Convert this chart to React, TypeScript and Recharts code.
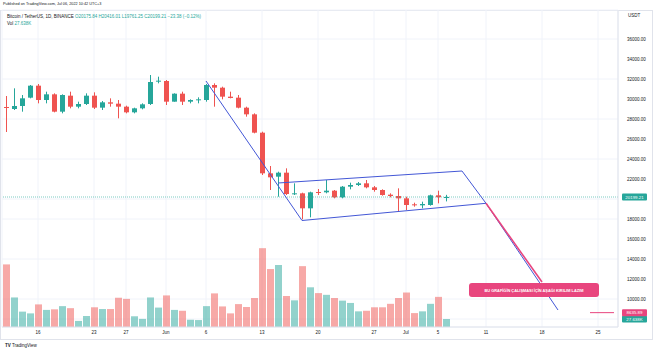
import React from 'react';
import {
  ComposedChart, Bar, Line, XAxis, YAxis, CartesianGrid, Cell, ReferenceLine, ReferenceDot,
} from 'recharts';

// BTC/USDT daily, 12 May 2022 → 6 Jul 2022
const open = [
  29200, 29000, 29300, 30133, 31333, 29900, 30467, 28733, 30333, 29233,
  29500, 30333, 29133, 29667, 29533, 29233, 28667, 29067, 29500, 31733,
  31800, 29733, 30533, 29733, 29900, 29900, 31400, 31133, 30233, 30133,
  29133, 28467, 26633, 22567, 22233, 22633, 20500, 20567, 19067, 20700,
  20667, 20833, 20167, 21233, 21400, 21567, 21167, 20900, 20433, 20300,
  20067, 19467, 19367, 19400, 20367, 20175.84,
];
const high = [
  30300, 31067, 30400, 31400, 31500, 30733, 30567, 30467, 30733, 29733,
  30567, 30667, 29800, 30067, 29900, 29333, 29133, 29567, 32400, 32233,
  31900, 30567, 30733, 29967, 30167, 31500, 31567, 31233, 30733, 30400,
  29233, 28567, 26733, 23300, 22733, 23067, 21567, 20633, 20733, 21000,
  21900, 20900, 21300, 21633, 21700, 21900, 21300, 20967, 20567, 21067,
  20233, 19633, 19733, 20433, 20833, 20416.01,
];
const low = [
  26700, 28900, 28733, 30067, 29567, 29567, 28667, 28567, 29067, 29067,
  29400, 29000, 28900, 29233, 28067, 28567, 28567, 28967, 29400, 31567,
  29400, 29733, 29400, 29567, 29567, 29733, 29233, 29967, 30067, 29067,
  28233, 26567, 22400, 20900, 20233, 20400, 20400, 17967, 18167, 20400,
  20567, 20067, 20067, 20967, 21300, 21067, 20733, 20333, 20167, 18733,
  18900, 19233, 19067, 19333, 19567, 19761.25,
];
const close = [
  29130, 29300, 30067, 31333, 29900, 30467, 28733, 30400, 29233, 29500,
  30333, 29133, 29667, 29533, 29233, 28667, 29067, 29467, 31700, 31833,
  29733, 30533, 29733, 29900, 29967, 31400, 31133, 30233, 30100, 29133,
  28467, 26633, 22567, 22167, 22633, 20500, 20567, 19067, 20667, 20667,
  20833, 20167, 21233, 21400, 21567, 21167, 20900, 20400, 20300, 20067,
  19400, 19367, 19500, 20367, 20176, 20199.21,
];
// volume, thousands of BTC
const volume = [
  216, 102, 53, 47, 78, 59, 61, 72, 65, 21,
  38, 68, 62, 62, 101, 97, 37, 28, 102, 67,
  109, 59, 56, 25, 24, 72, 116, 71, 47, 79,
  69, 100, 272, 200, 214, 107, 92, 210, 137, 117,
  111, 100, 91, 83, 54, 56, 68, 68, 80, 100,
  119, 48, 54, 80, 104, 27.638,
];

// drawings: [day index, price]
const poleLine = [[25, 31800], [37, 17850]];
const flagTop = [[34, 21600], [57, 22800]];
const flagEdge = [[57, 22800], [60, 19570]];
const flagBottom = [[37, 17850], [60, 19570]];
const targetLine = [[60, 19570], [69, 8900]];
const calloutTail = [[60, 19570], [67, 11700]];
const targetRay = [[73, 8635.89], [76, 8635.89]];

const tickDates = ['2022-05-16', '2022-05-23', '2022-05-27', '2022-06-01', '2022-06-06', '2022-06-13', '2022-06-20', '2022-06-27', '2022-07-01', '2022-07-05', '2022-07-11', '2022-07-18', '2022-07-25'];
const tickLabels = ['16', '23', '27', 'Jun', '6', '13', '20', '27', 'Jul', '5', '11', '18', '25'];
const priceTicks = [8000, 10000, 12000, 14000, 16000, 18000, 20000, 22000, 24000, 26000, 28000, 30000, 32000, 34000, 36000];

const LAST = 20199.21;
const TARGET = 8635.89;
const LAST_VOL = 27.638;

const GREEN = '#26a69a';
const RED = '#ef5350';
const BLUE = '#4357d6';
const PINK = '#e8457e';
const FONT = '"Liberation Sans", Arial, sans-serif';

const START = Date.UTC(2022, 4, 12);
const DAYS = 77;
const dates = Array.from({ length: DAYS }, (_, k) => new Date(START + k * 864e5).toISOString().slice(0, 10));

const drawings: Record<string, number[][]> = {
  pole: poleLine, top: flagTop, edge: flagEdge, bottom: flagBottom,
  target: targetLine, tail: calloutTail, ray: targetRay,
};

const data = dates.map((date, k) => {
  const row: any = { date };
  if (k < open.length) {
    row.o = open[k]; row.h = high[k]; row.l = low[k]; row.c = close[k];
    row.hl = [low[k], high[k]];
    row.v = volume[k];
  }
  Object.entries(drawings).forEach(([key, pts]) => {
    pts.forEach(([idx, val]) => { if (idx === k) row[key] = val; });
  });
  return row;
});

const Candle = (props: any) => {
  const { x, y, width, height, payload } = props;
  if (payload == null || payload.o == null) return null;
  const top = Math.min(y, y + height);
  const h = Math.abs(height);
  const { o, c } = payload;
  const hi = payload.h, lo = payload.l;
  const px = (v: number) => top + ((hi - v) / (hi - lo)) * h;
  const cx = Math.round(x + width / 2);
  const col = c >= o ? GREEN : RED;
  const y1 = px(Math.max(o, c));
  const y2 = px(Math.min(o, c));
  return (
    <g>
      <rect x={cx} y={top} width={1} height={h} fill={col} />
      <rect x={cx - 2} y={y1} width={5} height={Math.max(1, y2 - y1)} fill={col} />
    </g>
  );
};

const tag = (text: string, bg: string) => (props: any) => {
  const vb = props.viewBox;
  const x = vb.x + vb.width + 4;
  return (
    <g>
      <rect x={x} y={vb.y - 3.5} width={25} height={7} fill={bg} rx={1} />
      <text x={x + 12.5} y={vb.y + 1.6} fontSize={4.4} fill="#fff" textAnchor="middle" fontFamily={FONT}>{text}</text>
    </g>
  );
};

const CalloutBox = (props: any) => {
  const { x, y } = props.viewBox;
  return (
    <g>
      <rect x={x - 65} y={y - 7} width={130} height={14} rx={3} fill={PINK} />
      <text x={x} y={y + 1.5} fontSize={3.9} fontWeight="bold" fill="#fff" textAnchor="middle" fontFamily={FONT}>
        BU GRAFİĞİN ÇALIŞMASI İÇİN AŞAĞI KIRILIM LAZIM
      </text>
    </g>
  );
};

// axis labels that sit under the price / volume tags are hidden, as on TradingView
const priceLabel = (v: number) =>
  Math.abs(v - LAST) < 800 || Math.abs(v - TARGET) < 800 ? '' : v.toFixed(2);

const small: React.CSSProperties = { position: 'absolute', fontFamily: FONT, whiteSpace: 'nowrap', lineHeight: 1 };

export default function App() {
  return (
    <div style={{ position: 'absolute', left: 0, top: 0, width: 654, height: 352, background: '#fff', overflow: 'hidden' }}>
      <div style={{ position: 'absolute', left: 0, top: 10, width: 653, height: 330, border: '1px solid #e0e3eb', boxSizing: 'border-box' }} />
      <ComposedChart width={654} height={352} data={data} margin={{ top: 10, right: 0, left: 2, bottom: 13 }} style={{ position: 'absolute', left: 0, top: 0 }}>
        <CartesianGrid xAxisId="main" yAxisId="price" stroke="#f0f3fa" />
        <XAxis xAxisId="main" dataKey="date" ticks={tickDates} interval={0}
          tickFormatter={(d: string) => tickLabels[tickDates.indexOf(d)] ?? ''}
          height={12} tickLine={false} axisLine={{ stroke: '#e0e3eb' }} tickSize={3} tickMargin={1}
          tick={{ fontSize: 4.5, fill: '#131722', fontFamily: FONT }} />
        <XAxis xAxisId="vol" dataKey="date" hide />
        <YAxis yAxisId="price" orientation="right" width={36} domain={[7200, 38900]} ticks={priceTicks}
          allowDataOverflow tickFormatter={priceLabel} tickLine={false}
          axisLine={{ stroke: '#e0e3eb' }} tickSize={7} tickMargin={2}
          tick={{ fontSize: 4.5, fill: '#131722', fontFamily: FONT }} />
        <YAxis yAxisId="vol" domain={[0, 1094]} hide />

        <Bar xAxisId="vol" yAxisId="vol" dataKey="v" barSize={7} isAnimationActive={false}>
          {data.map((r, k) => (
            <Cell key={k} fill={r.c >= r.o ? GREEN : RED} fillOpacity={0.5} />
          ))}
        </Bar>

        <ReferenceLine xAxisId="main" yAxisId="price" y={LAST} stroke={GREEN} strokeOpacity={0.6} strokeDasharray="1 1"
          label={tag(LAST.toFixed(2), GREEN)} />
        <ReferenceLine xAxisId="vol" yAxisId="vol" y={LAST_VOL} stroke="none" label={tag(LAST_VOL.toFixed(3) + 'K', GREEN)} />
        <ReferenceLine xAxisId="main" yAxisId="price" y={TARGET} stroke="none" label={tag(TARGET.toFixed(2), PINK)} />

        <Bar xAxisId="main" yAxisId="price" dataKey="hl" barSize={6} shape={<Candle />} isAnimationActive={false} />

        <Line xAxisId="main" yAxisId="price" dataKey="pole" stroke={BLUE} strokeWidth={1} dot={false} connectNulls isAnimationActive={false} />
        <Line xAxisId="main" yAxisId="price" dataKey="top" stroke={BLUE} strokeWidth={1} dot={false} connectNulls isAnimationActive={false} />
        <Line xAxisId="main" yAxisId="price" dataKey="edge" stroke={BLUE} strokeWidth={1} dot={false} connectNulls isAnimationActive={false} />
        <Line xAxisId="main" yAxisId="price" dataKey="bottom" stroke={BLUE} strokeWidth={1} dot={false} connectNulls isAnimationActive={false} />
        <Line xAxisId="main" yAxisId="price" dataKey="target" stroke={BLUE} strokeWidth={1} dot={false} connectNulls isAnimationActive={false} />
        <Line xAxisId="main" yAxisId="price" dataKey="tail" stroke={PINK} strokeWidth={1.6} dot={false} connectNulls isAnimationActive={false} />
        <Line xAxisId="main" yAxisId="price" dataKey="ray" stroke={PINK} strokeWidth={1} dot={false} connectNulls isAnimationActive={false} />

        <ReferenceDot xAxisId="main" yAxisId="price" x={dates[66]} y={10900} r={0} stroke="none" fill="none" label={<CalloutBox />} />
      </ComposedChart>

      <div style={{ ...small, left: 3, top: 3, fontSize: 3.8, color: '#131722' }}>Published on TradingView.com, Jul 06, 2022 10:42 UTC+3</div>
      <div style={{ ...small, left: 7, top: 15, fontSize: 4.5, color: '#131722' }}>
        Bitcoin / TetherUS, 1D, BINANCE{' '}
        <span style={{ color: GREEN }}>O20175.84 H20416.01 L19761.25 C20199.21 −23.38 (−0.12%)</span>
      </div>
      <div style={{ ...small, left: 7, top: 22, fontSize: 4.5, color: '#131722' }}>
        Vol <span style={{ color: GREEN }}>27.638K</span>
      </div>
      <div style={{ ...small, left: 628, top: 14, fontSize: 4.5, color: '#131722' }}>USDT</div>
      <div style={{ ...small, left: 5, top: 344, fontSize: 4.5, color: '#131722' }}>
        <b>TV</b> TradingView
      </div>
    </div>
  );
}
